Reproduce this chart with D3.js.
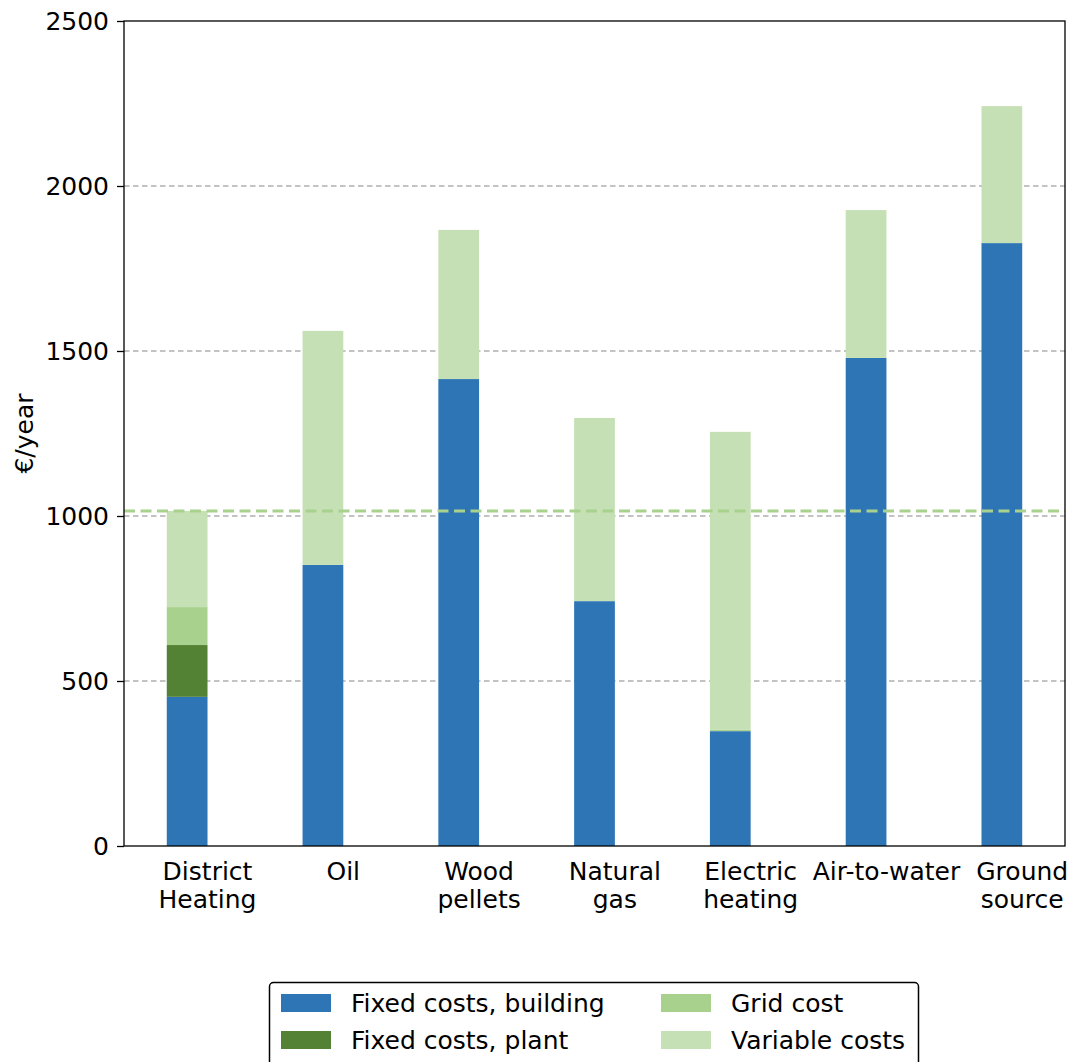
<!DOCTYPE html>
<html>
<head>
<meta charset="utf-8">
<script src="https://cdn.jsdelivr.net/npm/d3@7"></script>
<style>
  html, body { margin: 0; padding: 0; background: #fff; }
  svg { display: block; font-family: "DejaVu Sans", sans-serif; }
</style>
</head>
<body>
<svg id="chart" width="1073" height="1062"></svg>
<script>
// ---- data ----
const categories = ["District\nHeating", "Oil", "Wood\npellets", "Natural\ngas", "Electric\nheating", "Air-to-water", "Ground\nsource"];
const fixedBuilding = [452, 852, 1415, 742, 348, 1479, 1827];
const fixedPlant    = [157,   0,    0,   0,   0,    0,    0];
const gridCost      = [115,   0,    0,   0,   4,    0,    0];
const variableCosts = [291, 709,  452, 555, 903,  448,  415];
const seriesNames = ["Fixed costs, building", "Fixed costs, plant", "Grid cost", "Variable costs"];
const referenceLevel = 1015;
const yTicks = [0, 500, 1000, 1500, 2000, 2500];
const yLabel = "€/year";

// ---- styles ----
const colors = ["#2e75b6", "#548235", "#a9d18e", "#c5e0b4"];
const FS = 25;

const svg = d3.select("#chart");
const L = 124, R = 1065, T = 21, B = 846;

const x = d3.scaleLinear().domain([-0.465, categories.length - 1 + 0.465]).range([L, R]);
const y = d3.scaleLinear().domain([0, 2500]).range([B, T]);
const barHalf = 0.15;

// gridlines
svg.append("g").selectAll("line")
  .data(yTicks.filter(v => v > 0 && v < 2500))
  .join("line")
  .attr("x1", L).attr("x2", R)
  .attr("y1", d => y(d)).attr("y2", d => y(d))
  .attr("stroke", "#b0b0b0").attr("stroke-width", 1.4)
  .attr("stroke-dasharray", "5.5,3.5");

// stacked bars
const table = categories.map((c, i) => ({
  idx: i,
  vals: [fixedBuilding[i], fixedPlant[i], gridCost[i], variableCosts[i]]
}));
const keys = [0, 1, 2, 3];
const stack = d3.stack().keys(keys).value((d, k) => d.vals[k]);
const stacked = stack(table);

svg.append("g").selectAll("g")
  .data(stacked)
  .join("g")
  .attr("fill", (d, i) => colors[i])
  .selectAll("rect")
  .data(d => d.filter(s => s[1] - s[0] > 0))
  .join("rect")
  .attr("x", d => x(d.data.idx - barHalf))
  .attr("width", d => x(d.data.idx + barHalf) - x(d.data.idx - barHalf))
  .attr("y", d => y(d[1]))
  .attr("height", d => y(d[0]) - y(d[1]));

// reference dashed line
svg.append("line")
  .attr("x1", L).attr("x2", R)
  .attr("y1", y(referenceLevel)).attr("y2", y(referenceLevel))
  .attr("stroke", colors[2]).attr("stroke-width", 3)
  .attr("stroke-dasharray", "11,5.5");

// frame
svg.append("rect")
  .attr("x", L).attr("y", T).attr("width", R - L).attr("height", B - T)
  .attr("fill", "none").attr("stroke", "#000").attr("stroke-width", 1.3);

// y axis
const yAxis = d3.axisLeft(y).tickValues(yTicks).tickFormat(d3.format("d"))
  .tickSize(7).tickPadding(8).tickSizeOuter(0);
const gy = svg.append("g").attr("transform", `translate(${L},0)`).call(yAxis);
gy.select(".domain").remove();
gy.selectAll(".tick line").attr("stroke", "#000").attr("stroke-width", 1.3);
gy.selectAll(".tick text").attr("font-size", FS).attr("fill", "#000")
  .attr("font-family", "DejaVu Sans");

// x tick labels (positioned at the right edge of each bar, as in the original)
const xl = svg.append("g").selectAll("text")
  .data(categories)
  .join("text")
  .attr("text-anchor", "middle")
  .attr("font-size", FS)
  .attr("fill", "#000");
xl.each(function(d, i) {
  const lines = d.split("\n");
  d3.select(this).selectAll("tspan").data(lines).join("tspan")
    .attr("x", x(i + barHalf))
    .attr("y", (l, j) => 880 + j * 28)
    .text(l => l);
});

// y label
svg.append("text")
  .attr("transform", `translate(33,${(T + B) / 2}) rotate(-90)`)
  .attr("text-anchor", "middle")
  .attr("font-size", FS)
  .attr("fill", "#000")
  .text(yLabel);

// legend
const lg = svg.append("g");
lg.append("rect")
  .attr("x", 269.5).attr("y", 982.5).attr("width", 649).attr("height", 88)
  .attr("rx", 4).attr("fill", "#fff").attr("stroke", "#000").attr("stroke-width", 1.5);
const legPos = [[281, 1003], [281, 1040], [661, 1003], [661, 1040]];
seriesNames.forEach((name, i) => {
  const [px, py] = legPos[i];
  lg.append("rect").attr("x", px).attr("y", py - 9).attr("width", 50).attr("height", 18)
    .attr("fill", colors[i]);
  lg.append("text").attr("x", px + 70).attr("y", py + 9).attr("font-size", FS)
    .attr("fill", "#000").text(name);
});
</script>
</body>
</html>
